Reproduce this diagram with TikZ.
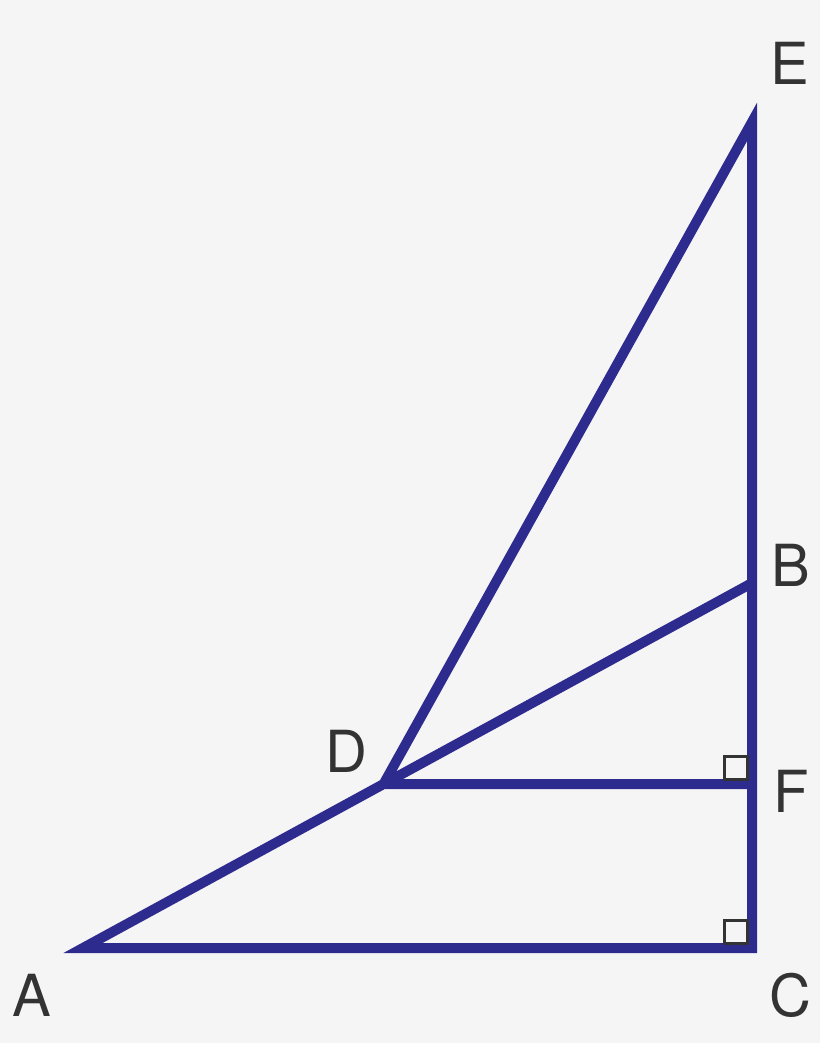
\documentclass[tikz,border=0pt]{standalone}
\usepackage{fontspec}
\setmainfont{TeX Gyre Heros}
\definecolor{seitenblau}{RGB}{46,43,143}
\definecolor{schrift}{RGB}{51,51,51}
\definecolor{grund}{RGB}{245,245,245}
\tikzset{
	seite/.style={draw=seitenblau, line width=10pt, line join=miter, miter limit=10},
	rechtwinkel/.style={draw=schrift, line width=3pt},
	ecke/.style={text=schrift, inner sep=0pt, font=\fontsize{58}{58}\selectfont}
}
\begin{document}
\begin{tikzpicture}[x=1pt, y=-1pt]
		\fill[grund] (0,0) rectangle (820,1043);
		\useasboundingbox (0,0) rectangle (820,1043);
		% Eckpunkte
		\coordinate (A) at (83,948);
		\coordinate (C) at (752,948);
		\coordinate (B) at (752,583);
		\coordinate (E) at (752,122);
		\coordinate (D) at (383.6,784);
		\coordinate (F) at (752,784);
		% Seiten
		\draw[seite] (B) -- (A) -- (C) -- (E) -- (D) -- (F);
		% Rechte Winkel bei C und F
		\foreach \p in {C,F} {
			\draw[rechtwinkel] (\p) ++(-5,-5) rectangle ++(-23,-23);
		}
		% Beschriftung
		\node[ecke] (lA) at (32,995) {A};
		\node[ecke] (lB) at (791,565) {B};
		\node[ecke] (lC) at (790,995) {C};
		\node[ecke] (lD) at (346,751) {D};
		\node[ecke] (lE) at (790,63) {E};
		\node[ecke] (lF) at (791,791) {F};
	\end{tikzpicture}
\end{document}
